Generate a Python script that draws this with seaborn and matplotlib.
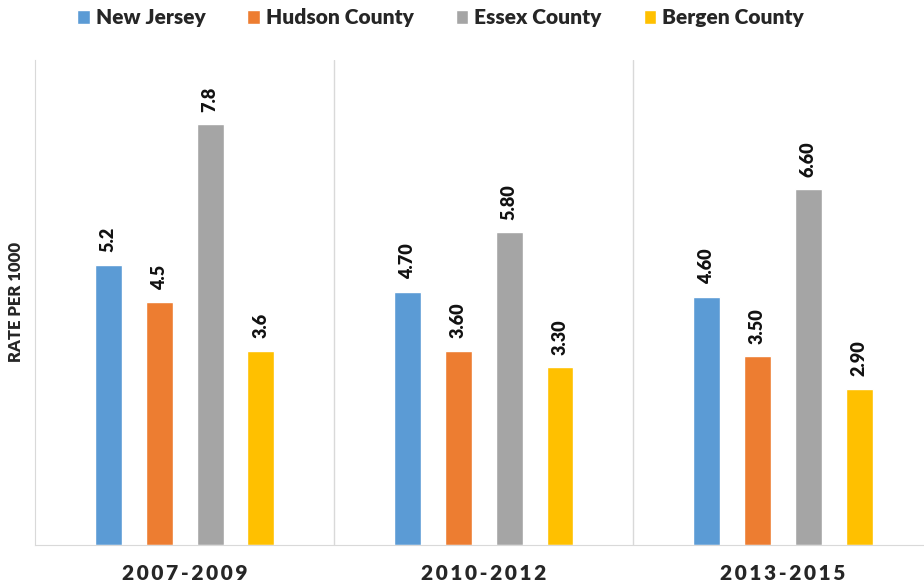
import pandas as pd
import matplotlib
matplotlib.use("Agg")
import matplotlib.pyplot as plt
import seaborn as sns

# data
periods = ["2007-2009", "2010-2012", "2013-2015"]
areas = ["New Jersey", "Hudson County", "Essex County", "Bergen County"]
new_jersey = [5.2, 4.70, 4.60]
hudson = [4.5, 3.60, 3.50]
essex = [7.8, 5.80, 6.60]
bergen = [3.6, 3.30, 2.90]
labels = [["5.2", "4.70", "4.60"],
          ["4.5", "3.60", "3.50"],
          ["7.8", "5.80", "6.60"],
          ["3.6", "3.30", "2.90"]]
colors = ["#5B9BD5", "#ED7D31", "#A5A5A5", "#FFC000"]

rows = []
for area, vals in zip(areas, [new_jersey, hudson, essex, bergen]):
    for p, v in zip(periods, vals):
        rows.append({"period": p, "area": area, "rate": v})
df = pd.DataFrame(rows)

sns.set_style("white")
plt.rcParams["font.family"] = ["Lato", "DejaVu Sans"]

fig = plt.figure(figsize=(9.24, 5.86), dpi=100)
ax = fig.add_axes([0.038, 0.07, 0.971, 0.828])

sns.barplot(data=df, x="period", y="rate", hue="area", palette=colors,
            width=0.68, gap=0.47, ax=ax, legend=True, saturation=1)

# value labels
for cont, labs in zip(ax.containers, labels):
    for bar, lab in zip(cont, labs):
        ax.annotate(lab, (bar.get_x() + bar.get_width() / 2, bar.get_height()),
                    xytext=(0, 9), textcoords="offset points",
                    ha="center", va="bottom", rotation=90,
                    fontsize=13, fontweight="heavy", color="#111111")

ax.set_ylim(0, 9)
ax.set_xlim(-0.5, 2.5)
for xv in [0.5, 1.5]:
    ax.axvline(xv, color="#d9d9d9", lw=1, zorder=0)

ax.set_yticks([])
ax.set_ylabel("RATE PER 1000", fontsize=12, fontweight="heavy", labelpad=8)
ax.set_xlabel("")
ax.tick_params(axis="x", length=0, pad=14)
# letter-spaced category labels
ax.set_xticks(range(len(periods)))
ax.set_xticklabels(["\u2009".join(p) for p in periods],
                   fontsize=15, fontweight="heavy")

for s in ["top", "right"]:
    ax.spines[s].set_visible(False)
for s in ["left", "bottom"]:
    ax.spines[s].set_color("#d9d9d9")

ax.legend(loc="upper center", bbox_to_anchor=(0.452, 1.145), ncol=4, frameon=False,
          prop={"size": 15, "weight": "heavy"}, handlelength=0.6, handleheight=0.7,
          handletextpad=0.3, columnspacing=2.0)

fig.savefig("out.png", dpi=100)
